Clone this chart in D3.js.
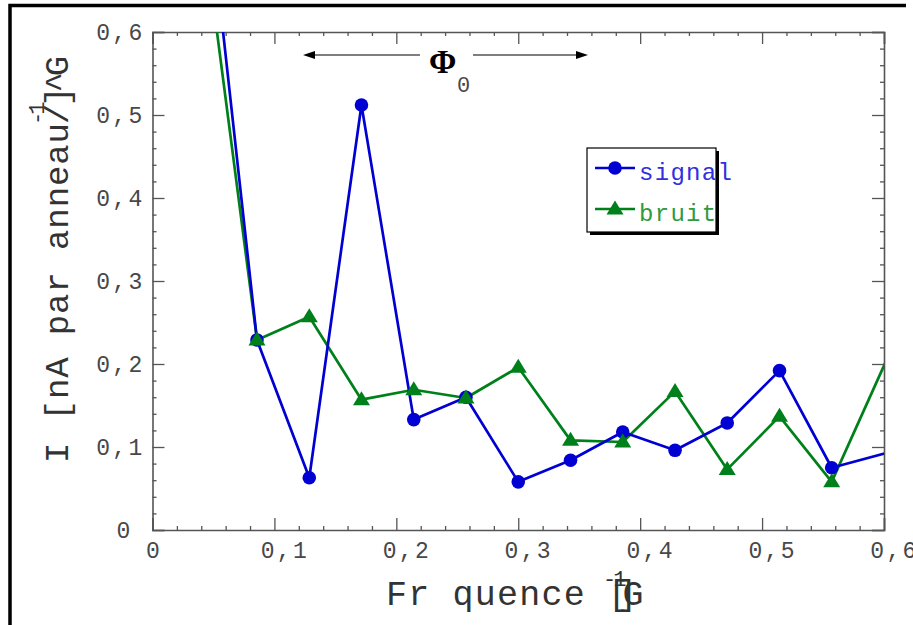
<!DOCTYPE html>
<html><head><meta charset="utf-8">
<script src="https://cdn.jsdelivr.net/npm/d3@7"></script>
<style>
html,body{margin:0;padding:0;background:#fff;}
svg{display:block;}
</style></head>
<body>
<svg id="chart" width="913" height="625"></svg>
<script>
// ---- data ----
const freq   = [0.0429, 0.0857, 0.1286, 0.1714, 0.2143, 0.2571, 0.3000, 0.3429, 0.3857, 0.4286, 0.4714, 0.5143, 0.5571, 0.6429];
const signal = [0.800, 0.229, 0.063, 0.512, 0.133, 0.160, 0.058, 0.084, 0.118, 0.096, 0.129, 0.192, 0.075, 0.109];
const bruit  = [0.713, 0.229, 0.257, 0.157, 0.169, 0.159, 0.196, 0.108, 0.106, 0.167, 0.073, 0.137, 0.058, 0.338];
const xMajor = [0, 0.1, 0.2, 0.3, 0.4, 0.5, 0.6];
const yMajor = [0, 0.1, 0.2, 0.3, 0.4, 0.5, 0.6];
const xMinor = [0.02,0.04,0.06,0.08,0.12,0.14,0.16,0.18,0.22,0.24,0.26,0.28,0.32,0.34,0.36,0.38,0.42,0.44,0.46,0.48,0.52,0.54,0.56,0.58];
const yMinor = [0.02,0.04,0.06,0.08,0.12,0.14,0.16,0.18,0.22,0.24,0.26,0.28,0.32,0.34,0.36,0.38,0.42,0.44,0.46,0.48,0.52,0.54,0.56,0.58];
const seriesNames = ["signal", "bruit"];
const xTitle = "Fr quence [";
const yTitle = "I [nA par anneau";

const MONO = "'Liberation Mono', monospace";
const BLUE = "#0000d2", GREEN = "#00801a";

const svg = d3.select("#chart");
const L = 152.5, R = 884, T = 32, B = 530;
const x = d3.scaleLinear().domain([0, 0.6]).range([L, R]);
const y = d3.scaleLinear().domain([0, 0.6]).range([B, T]);
const fmt = v => v === 0 ? "0" : v.toFixed(1).replace(".", ",");

// outer frame
svg.append("path").attr("d", "M906,5.5H10V625").attr("fill", "none")
  .attr("stroke", "#000").attr("stroke-width", 3.5);

// clip
svg.append("defs").append("clipPath").attr("id", "plotclip")
  .append("rect").attr("x", L).attr("y", T).attr("width", R - L).attr("height", B - T);

// axes
function styleAxis(g, labels) {
  g.selectAll(".domain").attr("stroke", "#555").attr("stroke-width", 1.6);
  g.selectAll(".tick line").attr("stroke", "#555").attr("stroke-width", 1.3);
  g.selectAll(".tick text").attr("fill", "#484848")
    .style("font-family", MONO).style("font-size", "23px").style("letter-spacing", "2.3px");
  if (!labels) g.selectAll(".tick text").remove();
}
const gB = svg.append("g").attr("transform", `translate(0,${B})`)
  .call(d3.axisBottom(x).tickValues(xMajor).tickSize(-12).tickPadding(12).tickFormat(fmt));
styleAxis(gB, true);
gB.selectAll(".tick text").attr("dy", "0.71em").attr("dx", d => d === 0 ? 1 : 10);
const gBm = svg.append("g").attr("transform", `translate(0,${B})`)
  .call(d3.axisBottom(x).tickValues(xMinor).tickSize(-4).tickFormat(""));
styleAxis(gBm, false); gBm.select(".domain").remove();

const gT = svg.append("g").attr("transform", `translate(0,${T})`)
  .call(d3.axisTop(x).tickValues(xMajor).tickSize(-12).tickFormat(""));
styleAxis(gT, false);
const gTm = svg.append("g").attr("transform", `translate(0,${T})`)
  .call(d3.axisTop(x).tickValues(xMinor).tickSize(-4).tickFormat(""));
styleAxis(gTm, false); gTm.select(".domain").remove();

const gL = svg.append("g").attr("transform", `translate(${L},0)`)
  .call(d3.axisLeft(y).tickValues(yMajor).tickSize(-12).tickPadding(8).tickFormat(fmt));
styleAxis(gL, true);
gL.selectAll(".tick text").attr("dx", d => d === 0 ? -12 : 0);
const gLm = svg.append("g").attr("transform", `translate(${L},0)`)
  .call(d3.axisLeft(y).tickValues(yMinor).tickSize(-4).tickFormat(""));
styleAxis(gLm, false); gLm.select(".domain").remove();

const gR = svg.append("g").attr("transform", `translate(${R},0)`)
  .call(d3.axisRight(y).tickValues(yMajor).tickSize(-12).tickFormat(""));
styleAxis(gR, false);
const gRm = svg.append("g").attr("transform", `translate(${R},0)`)
  .call(d3.axisRight(y).tickValues(yMinor).tickSize(-4).tickFormat(""));
styleAxis(gRm, false); gRm.select(".domain").remove();

// series
const plot = svg.append("g").attr("clip-path", "url(#plotclip)");
const line = d3.line().x(d => x(d[0])).y(d => y(d[1]));
const sData = freq.map((f, i) => [f, signal[i]]);
const bData = freq.map((f, i) => [f, bruit[i]]);
const tri = "M0,-8.5L8.5,5.5L-8.5,5.5Z";

plot.append("path").datum(bData).attr("d", line).attr("fill", "none")
  .attr("stroke", GREEN).attr("stroke-width", 2.7).attr("stroke-linejoin", "round");
plot.append("path").datum(sData).attr("d", line).attr("fill", "none")
  .attr("stroke", BLUE).attr("stroke-width", 2.7).attr("stroke-linejoin", "round");
plot.selectAll("circle.s").data(sData).join("circle").attr("class", "s")
  .attr("cx", d => x(d[0])).attr("cy", d => y(d[1])).attr("r", 6.8).attr("fill", BLUE);
plot.selectAll("path.b").data(bData).join("path").attr("class", "b")
  .attr("transform", d => `translate(${x(d[0])},${y(d[1])})`).attr("d", tri).attr("fill", GREEN);

// legend
const lg = svg.append("g");
lg.append("rect").attr("x", 590).attr("y", 151).attr("width", 129).attr("height", 84).attr("fill", "#000");
lg.append("rect").attr("x", 587).attr("y", 148).attr("width", 129).attr("height", 84)
  .attr("fill", "#fff").attr("stroke", "#000").attr("stroke-width", 1.2);
const legendRows = [
  {name: seriesNames[0], color: BLUE, text: "#3030e0", y: 168, sym: "c"},
  {name: seriesNames[1], color: GREEN, text: "#2f9a3e", y: 209, sym: "t"}
];
legendRows.forEach(r => {
  lg.append("line").attr("x1", 595).attr("x2", 635).attr("y1", r.y).attr("y2", r.y)
    .attr("stroke", r.color).attr("stroke-width", 2.6);
  if (r.sym === "c") lg.append("circle").attr("cx", 615).attr("cy", r.y).attr("r", 6.8).attr("fill", r.color);
  else lg.append("path").attr("transform", `translate(615,${r.y})`).attr("d", tri).attr("fill", r.color);
  lg.append("text").attr("x", 639).attr("y", r.y + 12).text(r.name)
    .attr("fill", r.text).style("font-family", MONO).style("font-size", "24px").style("letter-spacing", "1.3px");
});

// Phi_0 annotation
const ann = svg.append("g");
ann.append("line").attr("x1", 312).attr("x2", 420).attr("y1", 55).attr("y2", 55).attr("stroke", "#555").attr("stroke-width", 1.4);
ann.append("path").attr("d", "M303,55L315,51L315,59Z").attr("fill", "#000");
ann.append("line").attr("x1", 473).attr("x2", 578).attr("y1", 55).attr("y2", 55).attr("stroke", "#555").attr("stroke-width", 1.4);
ann.append("path").attr("d", "M588,55L576,51L576,59Z").attr("fill", "#000");
ann.append("text").attr("x", 429).attr("y", 73).text("Φ")
  .style("font-family", "'Liberation Serif', serif").style("font-size", "33px").style("font-weight", "bold").attr("fill", "#000");
ann.append("text").attr("x", 457).attr("y", 92).text("0")
  .style("font-family", MONO).style("font-size", "22px").attr("fill", "#484848");

// x title
const xt = svg.append("text").attr("x", 386).attr("y", 605)
  .style("font-family", MONO).style("font-size", "35px").style("letter-spacing", "1.2px").attr("fill", "#333");
xt.append("tspan").text(xTitle);
xt.append("tspan").attr("dx", -14).text("]");
xt.append("tspan").attr("dx", -16).text("G");
svg.append("text").attr("x", 603).attr("y", 586).text("-1")
  .style("font-family", MONO).style("font-size", "22px").style("letter-spacing", "-3px").attr("fill", "#333");

// y title
const yg = svg.append("g").attr("transform", "translate(68,463) rotate(-90)");
const yt = yg.append("text").attr("x", 0).attr("y", 0)
  .style("font-family", MONO).style("font-size", "34px").style("letter-spacing", "0.9px").attr("fill", "#333");
yt.append("tspan").text(yTitle);
yt.append("tspan").attr("dx", -2).text("/");
yt.append("tspan").attr("dx", -4).text("]");
yt.append("tspan").attr("dx", -7).text("^");
yt.append("tspan").attr("dx", -5).text("G");
yg.append("text").attr("x", 338).attr("y", -24).text("-1")
  .style("font-family", MONO).style("font-size", "22px").style("letter-spacing", "-3px").attr("fill", "#333");
</script>
</body></html>
